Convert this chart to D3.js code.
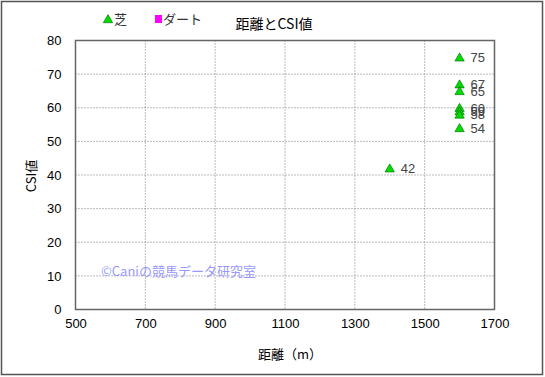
<!DOCTYPE html>
<html>
<head>
<meta charset="utf-8">
<script src="https://cdn.jsdelivr.net/npm/d3@7"></script>
<style>
body { margin: 0; background: #fff; }
text { font-family: "Liberation Sans", Arial, sans-serif; }
.jp { font-family: "Noto Sans CJK JP", sans-serif; }
</style>
</head>
<body>
<div id="chart"></div>
<script>
// 芝 (turf) points: distance, CSI
var shibaDist = [1400, 1600, 1600, 1600, 1600, 1600, 1600, 1600];
var shibaCsi = [42, 75, 67, 65, 60, 59, 58, 54];
// ダート (dirt): no points
var dirtDist = [];
var dirtCsi = [];
var xTicks = [500, 700, 900, 1100, 1300, 1500, 1700];
var yTicks = [0, 10, 20, 30, 40, 50, 60, 70, 80];

var W = 545, H = 377;
var svg = d3.select("#chart").append("svg").attr("width", W).attr("height", H);

svg.append("rect").attr("x", 1.5).attr("y", 1.5).attr("width", W - 4).attr("height", H - 4)
    .attr("fill", "#fff").attr("stroke", "#555").attr("stroke-width", 1.5);

var x = d3.scaleLinear().domain([500, 1700]).range([75.5, 494.5]);
var y = d3.scaleLinear().domain([0, 80]).range([309.5, 40.5]);

// grid (dotted)
svg.append("g").selectAll("line").data(xTicks.slice(1, -1)).enter().append("line")
    .attr("x1", d => x(d)).attr("x2", d => x(d)).attr("y1", y(80)).attr("y2", y(0))
    .attr("stroke", "#777").attr("stroke-dasharray", "1,2");
svg.append("g").selectAll("line").data(yTicks.slice(1, -1)).enter().append("line")
    .attr("x1", x(500)).attr("x2", x(1700)).attr("y1", d => y(d)).attr("y2", d => y(d))
    .attr("stroke", "#777").attr("stroke-dasharray", "1,2");

// frame
svg.append("rect").attr("x", x(500)).attr("y", y(80)).attr("width", x(1700) - x(500)).attr("height", y(0) - y(80))
    .attr("fill", "none").attr("stroke", "#666").attr("stroke-width", 1.5);

// axes
var xAxis = svg.append("g").attr("transform", "translate(0," + y(0) + ")")
    .call(d3.axisBottom(x).tickValues(xTicks).tickFormat(d3.format("d")).tickSize(0).tickPadding(9));
xAxis.select(".domain").remove();
xAxis.selectAll("text").attr("font-size", 13).attr("fill", "#000")
    .style("font-family", "Liberation Sans, Arial, sans-serif");

var yAxis = svg.append("g").attr("transform", "translate(" + x(500) + ",0)")
    .call(d3.axisLeft(y).tickValues(yTicks).tickSize(0).tickPadding(14));
yAxis.select(".domain").remove();
yAxis.selectAll("text").attr("font-size", 13).attr("fill", "#000")
    .style("font-family", "Liberation Sans, Arial, sans-serif");

// titles
svg.append("text").attr("class", "jp").attr("x", 274).attr("y", 29).attr("text-anchor", "middle")
    .attr("font-size", 14).text("距離とCSI値");
svg.append("text").attr("class", "jp").attr("x", 290).attr("y", 359).attr("text-anchor", "middle")
    .attr("font-size", 13).text("距離（m）");
svg.append("text").attr("class", "jp").attr("transform", "translate(36,176) rotate(-90)")
    .attr("text-anchor", "middle").attr("font-size", 13).text("CSI値");

// legend
var tri = d3.symbol().type(d3.symbolTriangle).size(38);
svg.append("path").attr("d", tri).attr("transform", "translate(108,20)")
    .attr("fill", "#00dd00").attr("stroke", "#006600").attr("stroke-width", 0.6);
svg.append("text").attr("class", "jp").attr("x", 114).attr("y", 24).attr("font-size", 13).attr("fill", "#333").text("芝");
svg.append("rect").attr("x", 155).attr("y", 15).attr("width", 7).attr("height", 8).attr("fill", "#ff00ff");
svg.append("text").attr("class", "jp").attr("x", 163).attr("y", 24).attr("font-size", 13).attr("fill", "#333").text("ダート");

// watermark
svg.append("text").attr("class", "jp").attr("x", 101).attr("y", 276).attr("font-size", 13)
    .attr("fill", "#9999ff").text("©Caniの競馬データ研究室");

// points
var pts = shibaDist.map((d, i) => ({ dist: d, csi: shibaCsi[i] }));
svg.append("g").selectAll("path").data(pts).enter().append("path")
    .attr("d", tri)
    .attr("transform", d => "translate(" + x(d.dist) + "," + (y(d.csi) + 1) + ")")
    .attr("fill", "#00dd00").attr("stroke", "#006600").attr("stroke-width", 0.6);
svg.append("g").selectAll("text").data(pts).enter().append("text")
    .attr("x", d => x(d.dist) + 11).attr("y", d => y(d.csi) + 5)
    .attr("font-size", 13).attr("fill", "#444").text(d => d.csi);

var dpts = dirtDist.map((d, i) => ({ dist: d, csi: dirtCsi[i] }));
svg.append("g").selectAll("rect").data(dpts).enter().append("rect")
    .attr("x", d => x(d.dist) - 4).attr("y", d => y(d.csi) - 4).attr("width", 8).attr("height", 8)
    .attr("fill", "#ff00ff");
</script>
</body>
</html>
